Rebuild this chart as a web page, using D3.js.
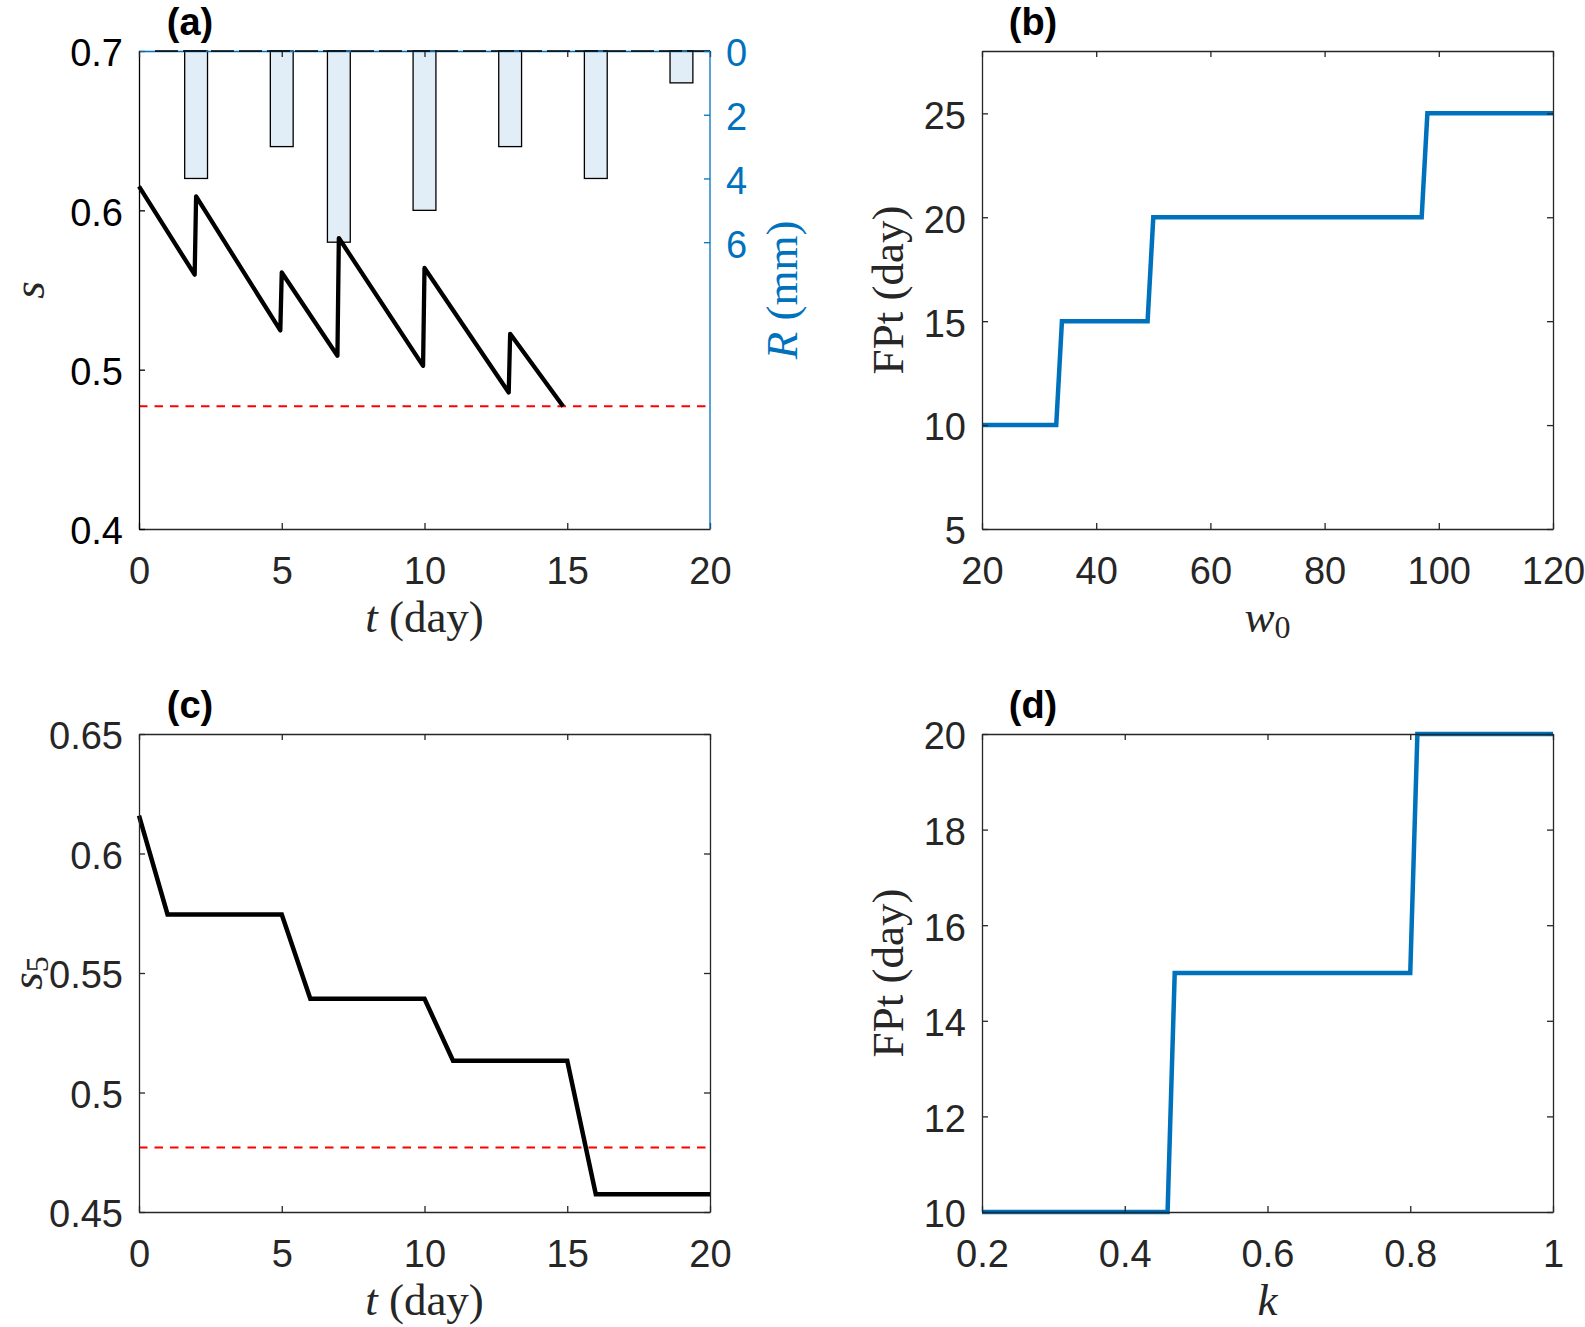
<!DOCTYPE html>
<meta charset="utf-8">
<script src="https://d3js.org/d3.v7.min.js"></script>
<style>
    body { margin: 0; background: #fff; }
    .tick text { font-family: "Liberation Sans", Arial, sans-serif; font-size: 38px; }
</style>
<body>
<script>

    // (a) soil moisture s(t) with rain pulses
    var tA = [0, 1.95, 2, 4.95, 5, 6.95, 7, 9.95, 10, 12.95, 13, 14.86];
    var sA = [0.615, 0.5596, 0.6087, 0.5246, 0.561, 0.5087, 0.5826, 0.5024, 0.5638, 0.4857, 0.5225, 0.4769];
    var rainDays = [2, 5, 7, 10, 13, 16, 19];
    var rainMm = [4, 3, 6, 5, 3, 4, 1];
    var sStar = 0.477;

    // (b) FPt vs w0
    var w0Vals = [20, 33, 34, 49, 50, 97, 98, 120];
    var fptW = [10, 10, 15, 15, 20, 20, 25, 25];

    // (c) s5(t)
    var tC = [0, 1, 5, 6, 10, 11, 15, 16, 20];
    var s5 = [0.6158, 0.5745, 0.5745, 0.5392, 0.5392, 0.5133, 0.5133, 0.4574, 0.4574];

    // (d) FPt vs k
    var kVals = [0.2, 0.46, 0.47, 0.80, 0.81, 1.0];
    var fptK = [10, 10, 15, 15, 20, 20];

    var axCol = "#262626";
    var blue = "#0072BD";
    var tickLen = 6;
    var W = 1585, H = 1327;

    var svg = d3.select("body").append("svg")
        .attr("width", W)
        .attr("height", H)
        .style("display", "block");

    svg.append("rect").attr("width", W).attr("height", H).attr("fill", "#fff");

    var boxA = {x0: 139, x1: 710, y0: 51, y1: 529};
    var boxB = {x0: 982, x1: 1553, y0: 51, y1: 529};
    var boxC = {x0: 139, x1: 710, y0: 734, y1: 1212};
    var boxD = {x0: 982, x1: 1553, y0: 734, y1: 1212};

    function styleAxis(g, col) {
        g.select(".domain").attr("stroke", col).attr("stroke-width", 1.3);
        g.selectAll(".tick line").attr("stroke", col).attr("stroke-width", 1.3);
        g.selectAll(".tick text").attr("fill", col);
    }

    // draws box, ticks on all sides (unless told otherwise) and tick labels
    function drawAxes(box, x, y, xticks, yticks, fmtY, opts) {
        opts = opts || {};
        var col = opts.col || axCol;
        var gx = svg.append("g")
            .attr("transform", "translate(0," + box.y1 + ")")
            .call(d3.axisBottom(x).tickValues(xticks).tickSizeInner(-tickLen).tickSizeOuter(0).tickPadding(28).tickFormat(d3.format("")));
        styleAxis(gx, col);
        gx.selectAll(".tick text").attr("dy", "0.71em");

        var gy = svg.append("g")
            .attr("transform", "translate(" + box.x0 + ",0)")
            .call(d3.axisLeft(y).tickValues(yticks).tickSizeInner(-tickLen).tickSizeOuter(0).tickPadding(16).tickFormat(fmtY));
        styleAxis(gy, opts.leftCol || col);
        gy.selectAll(".tick text").attr("dy", "0.39em");

        var gt = svg.append("g")
            .attr("transform", "translate(0," + box.y0 + ")")
            .call(d3.axisTop(x).tickValues(xticks).tickSizeInner(-tickLen).tickSizeOuter(0).tickFormat(""));
        styleAxis(gt, col);

        if (!opts.noRight) {
            var gr = svg.append("g")
                .attr("transform", "translate(" + box.x1 + ",0)")
                .call(d3.axisRight(y).tickValues(yticks).tickSizeInner(-tickLen).tickSizeOuter(0).tickFormat(""));
            styleAxis(gr, col);
        }
        return gt;
    }

    function panelTitle(box, txt) {
        svg.append("text")
            .attr("x", box.x0 + 51)
            .attr("y", box.y0 - 16)
            .attr("text-anchor", "middle")
            .style("font-family", "'Liberation Sans', Arial, sans-serif")
            .style("font-weight", "bold")
            .style("font-size", "38px")
            .attr("fill", "#000")
            .text(txt);
    }

    function serifLabel(parent, pieces, col) {
        var t = parent.append("text")
            .attr("text-anchor", "middle")
            .style("font-family", "'Liberation Serif', 'Times New Roman', serif")
            .style("font-size", "45px")
            .attr("fill", col || axCol);
        pieces.forEach(function(p) {
            var ts = t.append("tspan").text(p.t);
            if (p.i) ts.style("font-style", "italic");
            if (p.sub) ts.attr("dy", "0.2em").style("font-size", "32px");
        });
        return t;
    }

    function xLabel(box, pieces) {
        var g = svg.append("g").attr("transform", "translate(" + ((box.x0 + box.x1) / 2) + "," + (box.y1 + 103) + ")");
        serifLabel(g, pieces);
    }

    function yLabel(xpos, box, pieces, col) {
        var g = svg.append("g").attr("transform", "translate(" + xpos + "," + ((box.y0 + box.y1) / 2) + ") rotate(-90)");
        serifLabel(g, pieces, col);
    }

    var lineGen = function(x, y) {
        return d3.line().x(function(d) { return x(d[0]); }).y(function(d) { return y(d[1]); });
    };

    // ---------------- panel (a)
    var xA = d3.scaleLinear().domain([0, 20]).range([boxA.x0, boxA.x1]);
    var yA = d3.scaleLinear().domain([0.4, 0.7]).range([boxA.y1, boxA.y0]);
    var rA = d3.scaleLinear().domain([0, 15]).range([boxA.y0, boxA.y1]);

    // rain bars hanging from the top
    svg.append("g").selectAll("rect")
        .data(rainDays.map(function(d, i) { return [d, rainMm[i]]; }))
        .enter().append("rect")
        .attr("x", function(d) { return xA(d[0] - 0.4); })
        .attr("y", rA(0))
        .attr("width", xA(0.8) - xA(0))
        .attr("height", function(d) { return rA(d[1]) - rA(0); })
        .attr("fill", "#e1edf7")
        .attr("stroke", "#000")
        .attr("stroke-width", 1.3);

    svg.append("line")
        .attr("x1", boxA.x0).attr("x2", xA(20))
        .attr("y1", yA(sStar)).attr("y2", yA(sStar))
        .attr("stroke", "#ff0000").attr("stroke-width", 2)
        .attr("stroke-dasharray", "8.5 7");

    svg.append("path")
        .datum(tA.map(function(t, i) { return [t, sA[i]]; }))
        .attr("d", lineGen(xA, yA))
        .attr("fill", "none")
        .attr("stroke", "#000")
        .attr("stroke-width", 4.3)
        .attr("stroke-linejoin", "round");

    // axes of (a): left black, right blue, top blue with dashed baseline
    var gtA = drawAxes(boxA, xA, yA, [0, 5, 10, 15, 20], [0.4, 0.5, 0.6, 0.7], d3.format(".1f"),
        {noRight: true, col: axCol, leftCol: "#000"});
    gtA.select(".domain").attr("stroke", blue);
    svg.append("line")
        .attr("x1", boxA.x0 + 16).attr("x2", boxA.x1)
        .attr("y1", boxA.y0).attr("y2", boxA.y0)
        .attr("stroke", "#000").attr("stroke-width", 1.3)
        .attr("stroke-dasharray", "23 5");

    var grA = svg.append("g")
        .attr("transform", "translate(" + boxA.x1 + ",0)")
        .call(d3.axisRight(rA).tickValues([0, 2, 4, 6]).tickSizeInner(-tickLen).tickSizeOuter(0).tickPadding(16));
    grA.select(".domain").attr("d", "M0," + boxA.y0 + "V" + boxA.y1);
    styleAxis(grA, blue);
    grA.selectAll(".tick text").attr("dy", "0.39em");

    panelTitle(boxA, "(a)");
    xLabel(boxA, [{t: "t", i: true}, {t: " (day)"}]);
    yLabel(44, boxA, [{t: "s", i: true}]);
    yLabel(797, boxA, [{t: "R", i: true}, {t: " (mm)"}], blue);

    // ---------------- panel (b)
    var xB = d3.scaleLinear().domain([20, 120]).range([boxB.x0, boxB.x1]);
    var yB = d3.scaleLinear().domain([5, 28]).range([boxB.y1, boxB.y0]);

    svg.append("path")
        .datum(w0Vals.map(function(w, i) { return [w, fptW[i]]; }))
        .attr("d", lineGen(xB, yB))
        .attr("fill", "none")
        .attr("stroke", blue)
        .attr("stroke-width", 4.5);

    drawAxes(boxB, xB, yB, [20, 40, 60, 80, 100, 120], [5, 10, 15, 20, 25], d3.format(""));
    panelTitle(boxB, "(b)");
    xLabel(boxB, [{t: "w", i: true}, {t: "0", sub: true}]);
    yLabel(903, boxB, [{t: "FPt (day)"}]);

    // ---------------- panel (c)
    var xC = d3.scaleLinear().domain([0, 20]).range([boxC.x0, boxC.x1]);
    var yC = d3.scaleLinear().domain([0.45, 0.65]).range([boxC.y1, boxC.y0]);

    svg.append("line")
        .attr("x1", boxC.x0).attr("x2", xC(20))
        .attr("y1", yC(sStar)).attr("y2", yC(sStar))
        .attr("stroke", "#ff0000").attr("stroke-width", 2)
        .attr("stroke-dasharray", "8.5 7");

    svg.append("path")
        .datum(tC.map(function(t, i) { return [t, s5[i]]; }))
        .attr("d", lineGen(xC, yC))
        .attr("fill", "none")
        .attr("stroke", "#000")
        .attr("stroke-width", 4.5);

    drawAxes(boxC, xC, yC, [0, 5, 10, 15, 20], [0.45, 0.5, 0.55, 0.6, 0.65], d3.format(""));
    panelTitle(boxC, "(c)");
    xLabel(boxC, [{t: "t", i: true}, {t: " (day)"}]);
    yLabel(42, boxC, [{t: "s", i: true}, {t: "5", sub: true}]);

    // ---------------- panel (d)
    var xD = d3.scaleLinear().domain([0.2, 1]).range([boxD.x0, boxD.x1]);
    var yD = d3.scaleLinear().domain([10, 20]).range([boxD.y1, boxD.y0]);

    svg.append("path")
        .datum(kVals.map(function(k, i) { return [k, fptK[i]]; }))
        .attr("d", lineGen(xD, yD))
        .attr("fill", "none")
        .attr("stroke", blue)
        .attr("stroke-width", 4.5);

    drawAxes(boxD, xD, yD, [0.2, 0.4, 0.6, 0.8, 1], [10, 12, 14, 16, 18, 20], d3.format(""));
    panelTitle(boxD, "(d)");
    xLabel(boxD, [{t: "k", i: true}]);
    yLabel(903, boxD, [{t: "FPt (day)"}]);

</script>
</body>
